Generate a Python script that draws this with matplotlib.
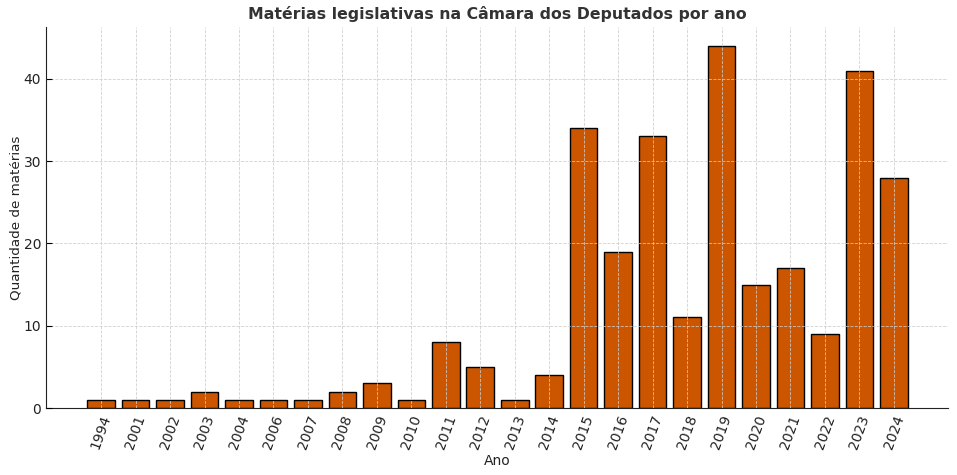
import matplotlib
matplotlib.use("Agg")
import matplotlib.pyplot as plt
import numpy as np

# dados
anos = ["1994", "2001", "2002", "2003", "2004", "2006", "2007", "2008", "2009", "2010",
        "2011", "2012", "2013", "2014", "2015", "2016", "2017", "2018", "2019", "2020",
        "2021", "2022", "2023", "2024"]
materias = [1, 1, 1, 2, 1, 1, 1, 2, 3, 1,
            8, 5, 1, 4, 34, 19, 33, 11, 44, 15,
            17, 9, 41, 28]

fig = plt.figure(figsize=(9.57, 4.75), dpi=100)
ax = fig.add_axes([46/957, 1 - 408/475, (948-46)/957, (408-27)/475])

x = np.arange(len(anos))
ax.bar(x, materias, width=0.8, color="#cc5500", edgecolor="black", linewidth=1)

ax.set_xticks(x)
ax.set_xticklabels(anos, rotation=70, fontsize=10, color="#222222")
ax.tick_params(axis="y", labelsize=10, labelcolor="#222222", direction="in", length=4)
ax.tick_params(axis="x", direction="in", length=0)
ax.set_xlim(-1.6, len(anos) - 1 + 1.57)
ax.set_ylim(0, 46.3)
ax.set_yticks([0, 10, 20, 30, 40])

ax.grid(True, linestyle="--", color="#cccccc", linewidth=0.6, alpha=0.9)
ax.set_axisbelow(False)
ax.spines["top"].set_visible(False)
ax.spines["right"].set_visible(False)
ax.spines["left"].set_color("#222222")
ax.spines["bottom"].set_color("#222222")

ax.set_title("Matérias legislativas na Câmara dos Deputados por ano",
             fontsize=11.3, fontweight="bold", color="#333333", pad=6)
ax.set_xlabel("Ano", fontsize=10, color="#222222", labelpad=2)
ax.set_ylabel("Quantidade de matérias", fontsize=9.7, color="#222222", labelpad=1)

fig.savefig("out.png", dpi=100)
